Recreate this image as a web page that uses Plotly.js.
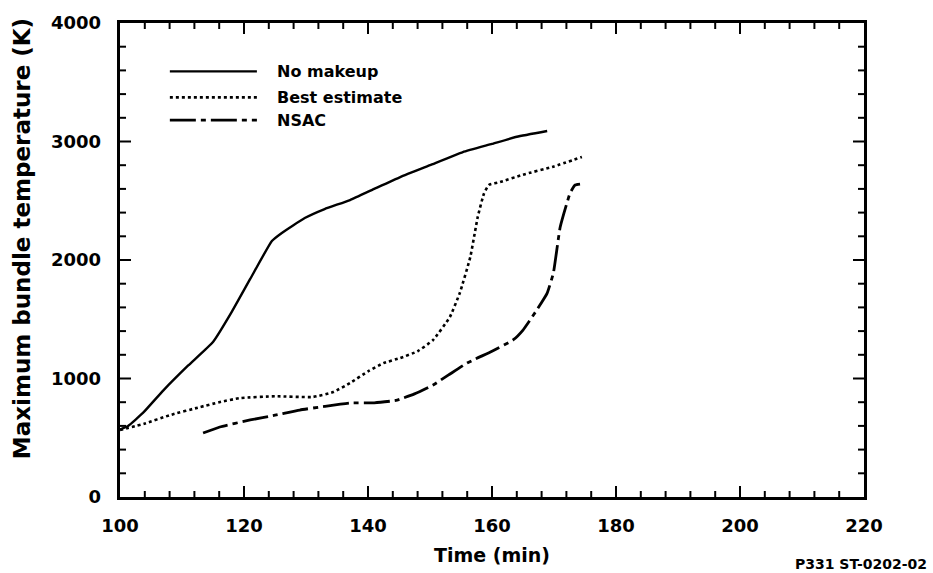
<!DOCTYPE html>
<html>
<head>
<meta charset="utf-8">
<script src="https://cdn.plot.ly/plotly-3.0.1.min.js"></script>
<style>html,body{margin:0;padding:0;background:#fff;}
#chart{width:933px;height:573px;}</style>
</head>
<body>
<div id="chart"></div>
<script>
// No makeup
const noMakeupX = [100, 101.3, 103.7, 107, 111, 115, 118, 121, 124.5, 126.1, 129.8, 133, 137.1, 141, 145.2, 150, 155.3, 160, 164, 168.9];
const noMakeupY = [570, 600, 709, 900, 1110, 1308, 1560, 1840, 2160, 2228, 2354, 2430, 2506, 2600, 2700, 2800, 2911, 2980, 3040, 3089];
// Best estimate
const bestX = [100, 104, 108, 112.9, 116, 119.4, 125, 131.1, 134.4, 137.1, 140, 142.5, 145.2, 148, 150.5, 153.2, 154.8, 156.5, 157.7, 158.7, 159.5, 161.3, 165, 170, 174.5];
const bestY = [565, 620, 690, 759, 800, 835, 850, 844, 886, 962, 1060, 1130, 1173, 1230, 1325, 1519, 1721, 2025, 2363, 2560, 2633, 2658, 2720, 2790, 2869];
// NSAC
const nsacX = [113.4, 116.1, 121, 125, 129, 133, 137.1, 141, 144.5, 147.5, 150.5, 153, 156, 160, 163.4, 165, 167, 168.9, 169.9, 171, 172.6, 173.4, 174.2];
const nsacY = [540, 591, 650, 690, 734, 765, 793, 795, 815, 870, 945, 1030, 1131, 1230, 1325, 1409, 1560, 1721, 1890, 2278, 2565, 2633, 2641];

const seriesNames = ['No makeup', 'Best estimate', 'NSAC'];
const seriesDash = ['solid', '3px,3px', '26px,5px,5px,5px'];
const seriesWidth = [2.4, 2.6, 2.8];

// axis settings
const xRange = [100, 220], xMajor = 20, xMinor = 4;
const yRange = [0, 4000], yMajor = 1000, yMinor = 200;

const FONT = '"DejaVu Sans", Verdana, sans-serif';

const traces = [
  {x: noMakeupX, y: noMakeupY, name: seriesNames[0], mode: 'lines', showlegend: false,
   line: {color: '#000', width: seriesWidth[0], dash: seriesDash[0], shape: 'spline', smoothing: 0.4}},
  {x: bestX, y: bestY, name: seriesNames[1], mode: 'lines', showlegend: false,
   line: {color: '#000', width: seriesWidth[1], dash: seriesDash[1], shape: 'spline', smoothing: 0.4}},
  {x: nsacX, y: nsacY, name: seriesNames[2], mode: 'lines', showlegend: false,
   line: {color: '#000', width: seriesWidth[2], dash: seriesDash[2], shape: 'spline', smoothing: 0.4}}
];

// legend drawn as shapes + annotations (long sample lines like the original)
const legY = [0.898, 0.843, 0.795];
const shapes = [];
const annotations = [];
seriesNames.forEach((n, i) => {
  shapes.push({type: 'line', xref: 'paper', yref: 'paper', x0: 0.067, x1: 0.184, y0: legY[i], y1: legY[i],
               line: {color: '#000', width: seriesWidth[i], dash: seriesDash[i]}});
  annotations.push({text: n, xref: 'paper', yref: 'paper', x: 0.208, y: legY[i], xanchor: 'left', yanchor: 'middle',
                    showarrow: false, font: {family: FONT, size: 16, color: '#000', weight: 'bold'}});
});

// inward tick marks on all four sides (major + minor), placed through the axes' own scales
const tickLine = {color: '#000', width: 2};
for (let v = xRange[0] + xMinor; v < xRange[1] - 1e-9; v += xMinor) {
  const len = (Math.abs(v / xMajor - Math.round(v / xMajor)) < 1e-6) ? 11 : 6;
  shapes.push({type: 'line', xref: 'x', yref: 'paper', ysizemode: 'pixel', yanchor: 0,
               x0: v, x1: v, y0: 0, y1: len, line: tickLine});
  shapes.push({type: 'line', xref: 'x', yref: 'paper', ysizemode: 'pixel', yanchor: 1,
               x0: v, x1: v, y0: 0, y1: -len, line: tickLine});
}
for (let v = yRange[0] + yMinor; v < yRange[1] - 1e-9; v += yMinor) {
  const len = (Math.abs(v / yMajor - Math.round(v / yMajor)) < 1e-6) ? 11 : 6;
  shapes.push({type: 'line', xref: 'paper', yref: 'y', xsizemode: 'pixel', xanchor: 0,
               x0: 0, x1: len, y0: v, y1: v, line: tickLine});
  shapes.push({type: 'line', xref: 'paper', yref: 'y', xsizemode: 'pixel', xanchor: 1,
               x0: 0, x1: -len, y0: v, y1: v, line: tickLine});
}

annotations.push({
  text: 'Maximum bundle temperature (K)', xref: 'paper', yref: 'paper', x: -0.1317, y: 0.544,
  xanchor: 'center', yanchor: 'middle', textangle: -90, showarrow: false,
  font: {family: FONT, size: 23, color: '#000', weight: 'bold'}
});
annotations.push({
  text: 'P331 ST-0202-02', xref: 'paper', yref: 'paper', x: 1.088, y: -0.141,
  xanchor: 'right', yanchor: 'middle', showarrow: false,
  font: {family: FONT, size: 14, color: '#000', weight: 'bold'}
});

const tickFont = {family: FONT, size: 18, color: '#000', weight: 'bold'};

const layout = {
  width: 933, height: 573,
  margin: {l: 120, r: 69, t: 23, b: 76},
  showlegend: false,
  xaxis: {
    range: xRange, dtick: xMajor, tick0: xRange[0],
    showline: true, linecolor: '#000', linewidth: 2.5, mirror: true,
    ticks: '', showgrid: false, zeroline: false,
    tickfont: tickFont, ticklabelstandoff: 11,
    title: {text: 'Time (min)', font: {family: FONT, size: 19, color: '#000', weight: 'bold'}, standoff: 14}
  },
  yaxis: {
    range: yRange, dtick: yMajor, tick0: yRange[0],
    showline: true, linecolor: '#000', linewidth: 2.5, mirror: true,
    ticks: '', showgrid: false, zeroline: false,
    tickfont: tickFont, ticksuffix: '\u00a0\u00a0'
  },
  shapes: shapes,
  annotations: annotations
};

Plotly.newPlot('chart', traces, layout, {displayModeBar: false});
</script>
</body>
</html>
